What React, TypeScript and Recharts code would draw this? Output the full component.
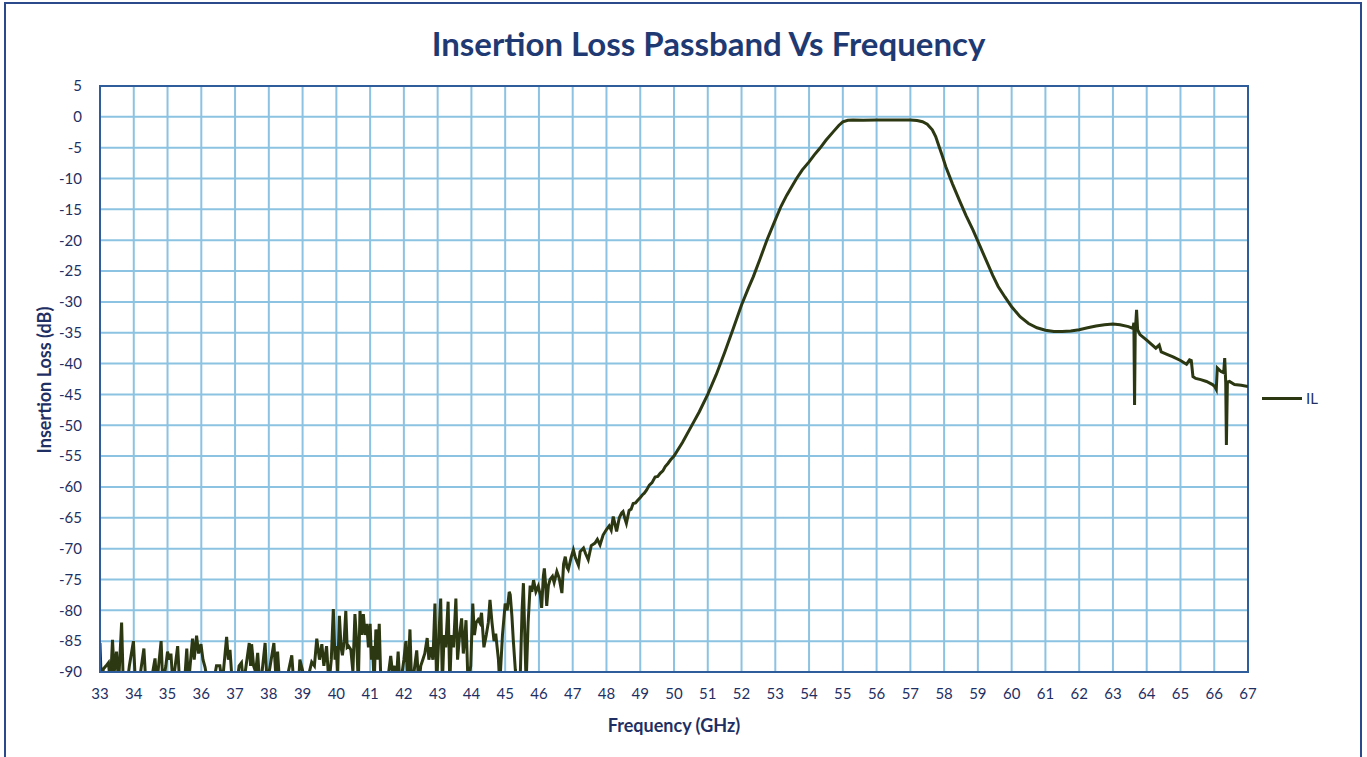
import { LineChart, Line, XAxis, YAxis, CartesianGrid, ReferenceArea } from 'recharts';

// measured sweep, split into segments (GHz / dB)
const NOISE_FREQ = [
  33.0, 33.04, 33.1, 33.18, 33.25, 33.31, 33.37, 33.42, 33.49, 33.55, 33.64, 33.69, 33.8, 33.87, 33.99,
  34.05, 34.15, 34.3, 34.36, 34.5, 34.63, 34.68, 34.81, 34.86, 34.95, 35.0, 35.06, 35.1, 35.16, 35.3,
  35.36, 35.5, 35.57, 35.62, 35.74, 35.79, 35.86, 35.92, 35.99, 36.05, 36.11, 36.2, 36.35, 36.45, 36.55,
  36.62, 36.75, 36.8, 36.85, 36.92, 37.05, 37.12, 37.19, 37.25, 37.42, 37.46, 37.49, 37.55, 37.61, 37.67,
  37.73, 37.8, 37.89, 37.95, 38.15, 38.2, 38.26, 38.32, 38.5, 38.68, 38.74, 38.88, 38.92, 39.1, 39.2,
  39.27, 39.35, 39.42, 39.5, 39.57, 39.63, 39.71, 39.78, 39.85, 39.91, 39.96, 39.99, 40.04, 40.09, 40.14,
  40.18, 40.23, 40.28, 40.32, 40.36, 40.43, 40.49, 40.55, 40.6, 40.65, 40.7, 40.75, 40.8, 40.85, 40.9,
  40.95, 41.0, 41.04, 41.07, 41.12, 41.17, 41.22, 41.27, 41.32, 41.37, 41.45, 41.55, 41.61, 41.66, 41.72,
  41.77, 41.83, 41.88, 41.95, 42.0, 42.06, 42.11, 42.18, 42.23, 42.3, 42.38, 42.44, 42.5, 42.56, 42.62,
  42.69, 42.74, 42.8, 42.86, 42.92, 42.97, 43.02, 43.09, 43.14, 43.19, 43.24, 43.31, 43.36, 43.41, 43.47,
  43.54, 43.59, 43.65, 43.71, 43.76, 43.81, 43.84, 43.9, 43.98, 44.04, 44.09, 44.14, 44.2, 44.25, 44.3,
  44.37, 44.44, 44.5, 44.55, 44.61, 44.67, 44.72, 44.8, 44.84, 44.92, 45.0, 45.06, 45.12, 45.15, 45.2,
  45.24, 45.3, 45.36, 45.44, 45.5, 45.54, 45.59, 45.62, 45.68, 45.74, 45.79, 45.84, 45.91, 45.98,
];
const NOISE_IL = [
  -85.3, -92, -89.5, -89, -88.5, -92, -84.8, -90, -86.7, -92, -82, -92, -92, -89, -85,
  -92, -92, -86.2, -92, -92, -87.8, -92, -85, -92, -89, -86.7, -88, -87, -92, -85.8,
  -92, -92, -86.2, -92, -84.6, -88, -84.1, -87, -85.5, -88, -89.2, -92, -92, -89, -89,
  -92, -84.3, -88, -86.4, -92, -92, -89, -88.5, -92, -85.3, -89, -85.5, -89, -90, -86.9,
  -92, -90, -85.3, -92, -85.3, -90, -86.7, -92, -92, -87.3, -92, -92, -88, -92, -90,
  -88.4, -89, -84.6, -88, -85.5, -89, -85.8, -92, -88, -79.8, -88, -85.8, -90, -80.9, -86,
  -87.3, -85, -80.1, -86, -85.8, -86.4, -90, -80.6, -85, -92, -80.1, -84, -80.6, -84, -82.2,
  -86, -82.2, -88, -85.8, -92, -83.1, -88, -82.2, -92, -90, -92, -90, -87.4, -90, -89,
  -92, -86.7, -92, -90, -88, -85, -92, -83.1, -92, -90, -86.5, -92, -89, -88, -87,
  -84.5, -88, -86, -88, -78.9, -92, -86, -78.1, -92, -84, -86, -78.6, -92, -84, -86,
  -78.1, -88, -84, -81.3, -87, -84, -81.6, -92, -89, -78.9, -84, -82, -81.5, -82, -80.4,
  -86, -84, -82, -78.3, -82, -85, -83.8, -88, -92, -84, -78.9, -80, -77, -77.5, -81,
  -84.8, -89.6, -92, -92, -80, -75.6, -86, -92, -82, -76, -77, -75.1, -77, -76.1,
];

const SKIRT_FREQ = [
  46.04, 46.08, 46.13, 46.16, 46.2, 46.23, 46.28, 46.33, 46.4, 46.45, 46.53, 46.6, 46.68, 46.73, 46.78,
  46.83, 46.87, 46.95, 47.02, 47.08, 47.17, 47.22, 47.32, 47.38, 47.46, 47.55, 47.66, 47.73, 47.81, 47.9,
  48.0, 48.08, 48.14, 48.2, 48.25, 48.3, 48.38, 48.45, 48.49, 48.55, 48.59, 48.67, 48.73, 48.79, 48.86,
  48.92, 48.99, 49.06, 49.12, 49.19, 49.27, 49.35, 49.44, 49.52, 49.59, 49.67, 49.74, 49.82, 49.9, 50.0,
  50.25, 50.5, 50.75, 51.0, 51.25, 51.5, 51.75, 52.0, 52.2, 52.35, 52.55, 52.75, 53.0, 53.17, 53.34,
  53.5, 53.63, 53.8, 54.0, 54.15, 54.32, 54.5, 54.72, 54.88, 55.0,
];
const SKIRT_IL = [
  -77.5, -79.6, -74.5, -73.2, -76, -79.3, -76, -75, -74.5, -75.5, -73.7, -74.8, -77.2, -72.5, -71.3,
  -73, -73.4, -71.5, -70.2, -71.5, -72.7, -70.5, -69.9, -70.8, -71.8, -69.5, -69.1, -68.5, -69.4, -67.8,
  -66.9, -66.3, -67, -64.8, -66, -67.2, -65, -64.2, -64, -65.2, -65.9, -63.8, -63.6, -62.7, -62.6,
  -62.2, -61.8, -61.3, -61, -60.5, -59.7, -59.3, -58.4, -58.3, -57.8, -57.4, -56.7, -56.2, -55.6, -55.0,
  -52.8, -50.3, -47.8, -45.0, -41.8, -38.2, -34.4, -30.5, -27.8, -25.9, -23.0, -20.0, -16.7, -14.5, -12.7,
  -11.2, -10.0, -8.6, -7.3, -6.2, -5.1, -3.8, -2.4, -1.4, -0.8,
];

const PASS_FREQ = [55.15, 55.3, 55.6, 56.0, 56.5, 57.0, 57.2, 57.36, 57.5, 57.65, 57.75, 57.85, 57.95, 58.05, 58.25, 58.45, 58.65, 58.85, 59.05, 59.24, 59.44, 59.6, 59.8, 60.0];
const PASS_IL = [-0.55, -0.5, -0.55, -0.5, -0.5, -0.5, -0.6, -0.8, -1.2, -2.1, -3.2, -4.8, -6.4, -8.1, -10.9, -13.5, -16.0, -18.3, -20.8, -23.2, -25.7, -27.5, -29.2, -30.8];

const UPPER_FREQ = [
  60.25, 60.5, 60.75, 61.0, 61.25, 61.5, 61.75, 62.0, 62.25, 62.5, 62.75, 63.0, 63.21, 63.46, 63.59,
  63.62, 63.64, 63.66, 63.7, 63.73, 63.8, 64.0, 64.27, 64.37, 64.43, 64.6, 64.78, 65.0, 65.18, 65.27,
  65.32, 65.37, 65.45, 65.6, 65.77, 65.95, 66.01, 66.06, 66.09, 66.2, 66.28, 66.31, 66.34, 66.36, 66.39,
  66.45, 66.6, 66.8, 67.0,
];
const UPPER_IL = [
  -32.4, -33.5, -34.2, -34.6, -34.8, -34.8, -34.7, -34.5, -34.2, -33.9, -33.7, -33.6, -33.7, -34.0, -34.3,
  -33.4, -46.7, -35, -31.3, -34.5, -35.3, -36.2, -37.5, -37.0, -38.1, -38.5, -38.9, -39.5, -40.1, -39.4,
  -39.5, -42.1, -42.4, -42.6, -42.9, -43.4, -43.7, -44.2, -40.7, -41.3, -41.5, -39.1, -43, -53.2, -43,
  -42.9, -43.4, -43.5, -43.7,
];

const X_TICKS = [
  33, 34, 35, 36, 37, 38, 39, 40, 41, 42, 43, 44, 45, 46, 47, 48, 49, 50,
  51, 52, 53, 54, 55, 56, 57, 58, 59, 60, 61, 62, 63, 64, 65, 66, 67,
];
const Y_TICKS = [5, 0, -5, -10, -15, -20, -25, -30, -35, -40, -45, -50, -55, -60, -65, -70, -75, -80, -85, -90];

const FONT = 'Lato, "Open Sans", sans-serif';
const NAVY = '#1f2f63';
const LINE = '#2c3812';

const freqs = [...NOISE_FREQ, ...SKIRT_FREQ, ...PASS_FREQ, ...UPPER_FREQ];
const losses = [...NOISE_IL, ...SKIRT_IL, ...PASS_IL, ...UPPER_IL];
const data = freqs.map((f, i) => ({ f, il: losses[i] }));

export default function App() {
  return (
    <div style={{ position: 'absolute', left: 0, top: 0, width: 1367, height: 757, background: '#fff', overflow: 'hidden', fontFamily: FONT }}>
      <div style={{ position: 'absolute', left: 4, top: 2, width: 1358, height: 770, border: '2px solid #2a4a8c', boxSizing: 'border-box' }} />
      <div style={{ position: 'absolute', left: 0, width: 1417, top: 23, textAlign: 'center', fontSize: 33, fontWeight: 700, color: '#1f3a73' }}>
        Insertion Loss Passband Vs Frequency
      </div>
      <div style={{ position: 'absolute', left: 44, top: 380, transform: 'translate(-50%, -50%) rotate(-90deg)', whiteSpace: 'nowrap', fontSize: 18, fontWeight: 700, color: NAVY }}>
        Insertion Loss (dB)
      </div>
      <div style={{ position: 'absolute', left: 674, top: 725, transform: 'translate(-50%, -50%)', whiteSpace: 'nowrap', fontSize: 18, fontWeight: 700, color: NAVY }}>
        Frequency (GHz)
      </div>
      <LineChart width={1367} height={757} data={data} margin={{ top: 86, right: 119, bottom: 40, left: 40 }} style={{ position: 'absolute', left: 0, top: 0 }}>
        <CartesianGrid stroke="#8cc3e2" strokeWidth={2} />
        <XAxis
          dataKey="f"
          type="number"
          domain={[33, 67]}
          ticks={X_TICKS}
          interval={0}
          allowDataOverflow
          height={45}
          tickLine={false}
          axisLine={{ stroke: '#2f5d9c', strokeWidth: 2 }}
          tick={{ fill: NAVY, fontSize: 15, fontFamily: FONT }}
          tickMargin={10}
        />
        <YAxis
          type="number"
          domain={[-90, 5]}
          ticks={Y_TICKS}
          interval={0}
          allowDataOverflow
          width={60}
          tickLine={false}
          axisLine={{ stroke: '#2f5d9c', strokeWidth: 2 }}
          tick={{ fill: NAVY, fontSize: 15, fontFamily: FONT }}
          tickMargin={12}
        />
        <ReferenceArea x1={33} x2={67} y1={-90} y2={5} fill="none" stroke="#2f5d9c" strokeWidth={2} ifOverflow="visible" />
        <Line type="linear" dataKey="il" name="IL" stroke={LINE} strokeWidth={3} dot={false} isAnimationActive={false} />
      </LineChart>
      {/* legend */}
      <div style={{ position: 'absolute', left: 1262, top: 389, display: 'flex', alignItems: 'center', gap: 4 }}>
        <div style={{ width: 40, height: 3, background: LINE }} />
        <span style={{ fontSize: 15, color: NAVY }}>IL</span>
      </div>
    </div>
  );
}
